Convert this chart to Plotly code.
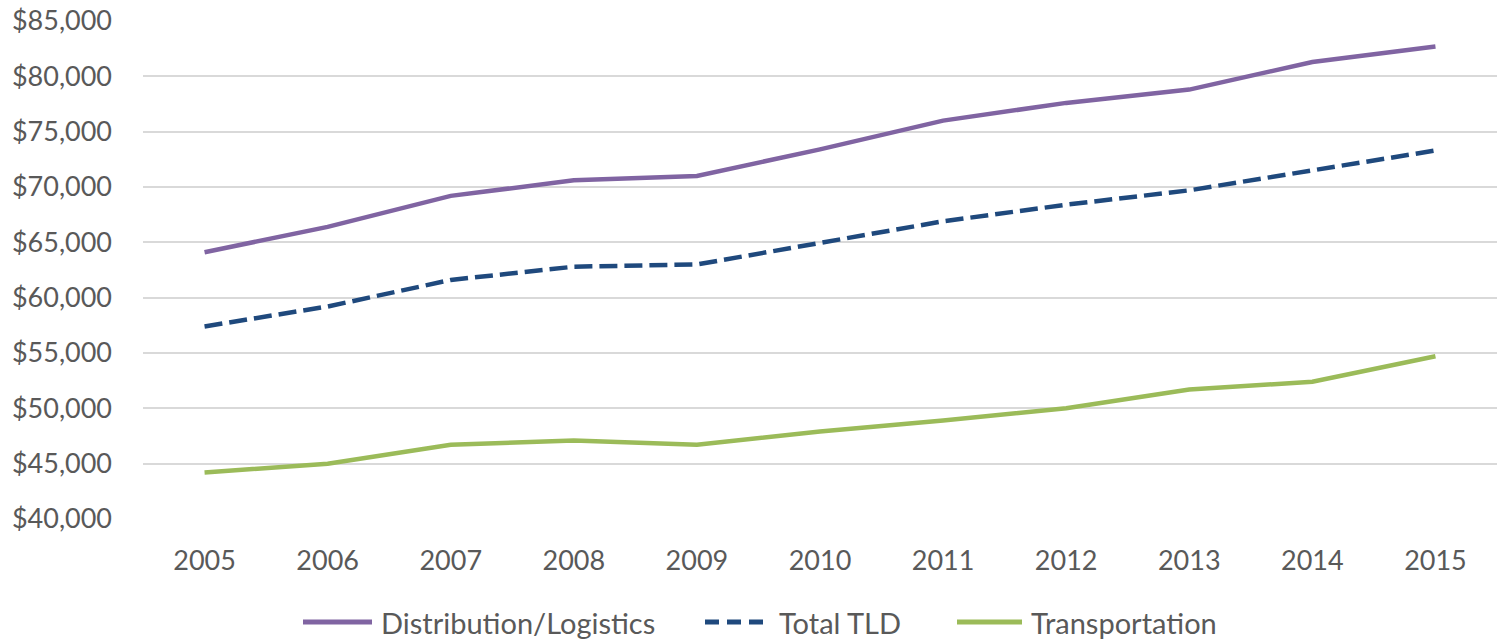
import plotly.graph_objects as go

years = ["2005", "2006", "2007", "2008", "2009", "2010", "2011", "2012", "2013", "2014", "2015"]
distribution_logistics = [64100, 66400, 69200, 70600, 71000, 73400, 76000, 77600, 78800, 81300, 82700]
total_tld = [57400, 59200, 61600, 62800, 63000, 64900, 66900, 68400, 69700, 71500, 73300]
transportation = [44200, 45000, 46700, 47100, 46700, 47900, 48900, 50000, 51700, 52400, 54700]

series_names = ["Distribution/Logistics", "Total TLD", "Transportation"]
series_colors = ["#8064A2", "#1F497D", "#9BBB59"]
series_dash = ["solid", "18px,7px", "solid"]

y_ticks = [40000, 45000, 50000, 55000, 60000, 65000, 70000, 75000, 80000, 85000]
y_ticktext = ["$" + f"{v:,}" for v in y_ticks]

font_family = "Lato"
text_color = "#595959"

W, H = 1499, 640
ML, MR, MT, MB = 143, 2, 21, 121
pw, ph = W - ML - MR, H - MT - MB

fig = go.Figure()
for name, vals, col, dsh in zip(series_names, [distribution_logistics, total_tld, transportation],
                                series_colors, series_dash):
    fig.add_trace(go.Scatter(x=years, y=vals, name=name, mode="lines",
                             line=dict(color=col, width=4.5, dash=dsh)))

# manual legend (to match reference symbol lengths and spacing)
legend_y_px = 622
sym_x = [(303, 372), (705, 770), (957, 1022)]
txt_x = [379, 777, 1029]
def px_to_paper_x(px):
    return (px - ML) / pw
ly = -(legend_y_px - (H - MB)) / ph
shapes = []
annotations = []
for (x0, x1), tx, name, col, dsh in zip(sym_x, txt_x, series_names, series_colors,
                                        ["solid", "14px,8px", "solid"]):
    shapes.append(dict(type="line", xref="paper", yref="paper",
                       x0=px_to_paper_x(x0), x1=px_to_paper_x(x1), y0=ly, y1=ly,
                       line=dict(color=col, width=5, dash=dsh)))
    annotations.append(dict(xref="paper", yref="paper", x=px_to_paper_x(tx), y=ly,
                            xanchor="left", yanchor="middle", text=name, showarrow=False,
                            font=dict(family=font_family, size=29, color=text_color)))

fig.update_layout(
    width=W, height=H,
    margin=dict(l=ML, r=MR, t=MT, b=MB, autoexpand=False),
    paper_bgcolor="white", plot_bgcolor="white",
    font=dict(family=font_family, size=27, color=text_color),
    showlegend=False,
    shapes=shapes, annotations=annotations,
    xaxis=dict(type="category", range=[-0.5, 10.5], showgrid=False, showline=False,
               zeroline=False, ticks="", tickfont=dict(size=27, color=text_color),
               ticklabelstandoff=23),
    yaxis=dict(range=[40000, 85000], tickvals=y_ticks, ticktext=y_ticktext,
               showgrid=True, gridcolor="#D9D9D9", gridwidth=1.5, zeroline=False,
               showline=False, ticks="", tickfont=dict(size=27, color=text_color),
               ticklabelstandoff=30),
)

fig.write_html("out.html", config={"displayModeBar": False},
               post_script="document.body.style.margin='0';document.body.style.padding='0';"
                           "document.body.style.overflow='hidden';")
